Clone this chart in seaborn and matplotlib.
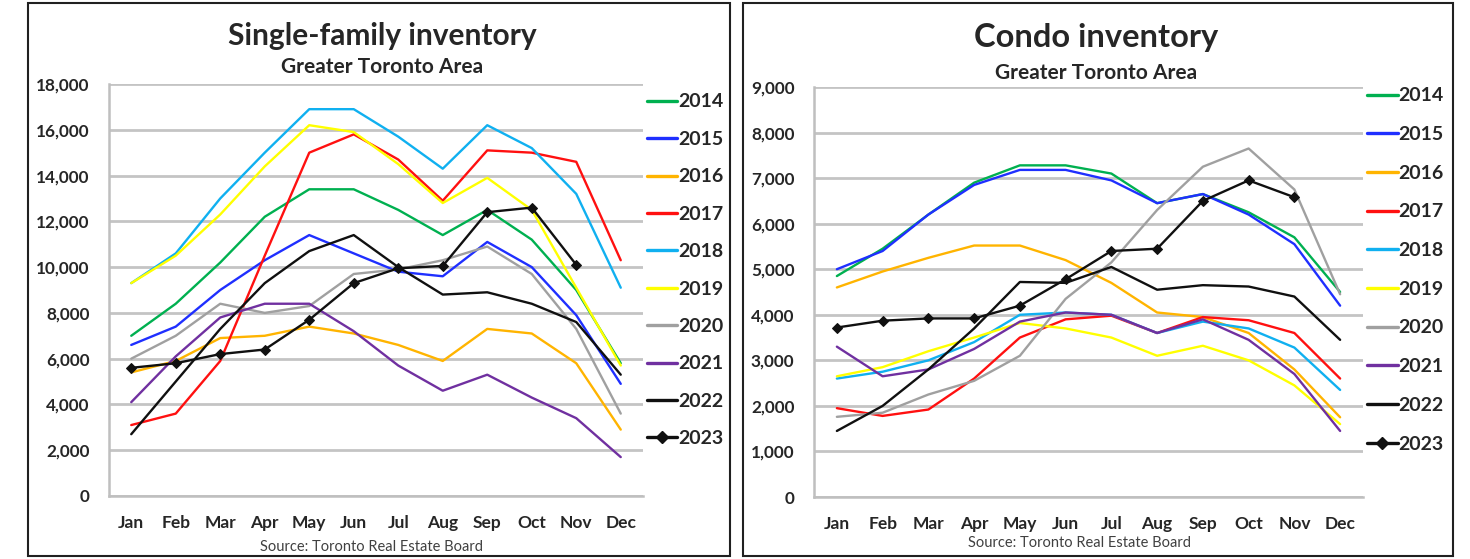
import numpy as np
import pandas as pd
import seaborn as sns
import matplotlib.pyplot as plt
from matplotlib.patches import Rectangle
from matplotlib.ticker import FuncFormatter
from matplotlib.lines import Line2D

sns.set_style('white')
plt.rcParams['font.family'] = ['Lato', 'DejaVu Sans']

months = ['Jan', 'Feb', 'Mar', 'Apr', 'May', 'Jun', 'Jul', 'Aug', 'Sep', 'Oct', 'Nov', 'Dec']
years = ['2014', '2015', '2016', '2017', '2018', '2019', '2020', '2021', '2022', '2023']
year_colors = ['#00b050', '#1f2fff', '#ffb400', '#ff1010', '#10b0f0',
               '#ffff00', '#a0a0a0', '#7030a0', '#101010', '#101010']

# single-family inventory, GTA
sf_2014 = [7000, 8400, 10200, 12200, 13400, 13400, 12500, 11400, 12500, 11200, 9000, 5800]
sf_2015 = [6600, 7400, 9000, 10300, 11400, 10600, 9800, 9600, 11100, 10000, 7900, 4900]
sf_2016 = [5400, 5900, 6900, 7000, 7400, 7100, 6600, 5900, 7300, 7100, 5800, 2900]
sf_2017 = [3100, 3600, 5900, 10500, 15000, 15800, 14700, 12900, 15100, 15000, 14600, 10300]
sf_2018 = [9300, 10600, 13000, 15000, 16900, 16900, 15700, 14300, 16200, 15200, 13200, 9100]
sf_2019 = [9300, 10500, 12300, 14400, 16200, 15900, 14500, 12800, 13900, 12500, 9100, 5700]
sf_2020 = [6000, 7000, 8400, 8000, 8300, 9700, 9900, 10300, 10900, 9700, 7300, 3600]
sf_2021 = [4100, 6100, 7800, 8400, 8400, 7200, 5700, 4600, 5300, 4300, 3400, 1700]
sf_2022 = [2700, 5000, 7300, 9300, 10700, 11400, 10000, 8800, 8900, 8400, 7600, 5300]
sf_2023 = [5600, 5800, 6200, 6400, 7700, 9300, 9950, 10050, 12400, 12600, 10100, np.nan]

# condo inventory, GTA
co_2014 = [4850, 5450, 6200, 6900, 7280, 7280, 7100, 6450, 6650, 6250, 5700, 4500]
co_2015 = [5000, 5400, 6200, 6850, 7180, 7180, 6950, 6450, 6650, 6200, 5550, 4200]
co_2016 = [4600, 4950, 5250, 5520, 5520, 5200, 4700, 4050, 3950, 3600, 2800, 1750]
co_2017 = [1950, 1780, 1920, 2600, 3500, 3900, 3980, 3600, 3950, 3880, 3600, 2600]
co_2018 = [2600, 2750, 3000, 3400, 4000, 4050, 4000, 3600, 3850, 3700, 3280, 2350]
co_2019 = [2650, 2850, 3200, 3500, 3820, 3700, 3500, 3100, 3320, 3000, 2450, 1600]
co_2020 = [1760, 1850, 2250, 2550, 3100, 4350, 5150, 6300, 7250, 7650, 6750, 4450]
co_2021 = [3300, 2650, 2800, 3250, 3850, 4050, 4000, 3600, 3900, 3450, 2700, 1450]
co_2022 = [1450, 2000, 2800, 3700, 4720, 4700, 5050, 4550, 4650, 4620, 4400, 3450]
co_2023 = [3720, 3870, 3920, 3920, 4200, 4780, 5400, 5450, 6500, 6950, 6580, np.nan]

sf_series = [sf_2014, sf_2015, sf_2016, sf_2017, sf_2018, sf_2019, sf_2020, sf_2021, sf_2022, sf_2023]
co_series = [co_2014, co_2015, co_2016, co_2017, co_2018, co_2019, co_2020, co_2021, co_2022, co_2023]


def long_df(series):
    rows = []
    for yr, vals in zip(years, series):
        for i, v in enumerate(vals):
            rows.append((yr, i, v))
    return pd.DataFrame(rows, columns=['year', 'month', 'value']).dropna()


def draw_panel(ax, df, ymax, title, title_size, title_x, title_y, sub_y, src_x, src_y,
               leg_y, leg_space):
    palette = dict(zip(years, year_colors))
    for yr in years:
        sub = df[df['year'] == yr]
        mk = 'D' if yr == '2023' else None
        sns.lineplot(data=sub, x='month', y='value', ax=ax, color=palette[yr], lw=1.7,
                     marker=mk, markersize=5.5, markeredgecolor='#101010', sort=False,
                     label=yr, legend=False)
    ax.set_xlim(-0.5, 11.5)
    ax.set_ylim(0, ymax)
    ax.set_yticks(np.linspace(0, ymax, 10))
    ax.yaxis.set_major_formatter(FuncFormatter(lambda v, p: f'{int(v):,}'))
    ax.set_xticks(range(12))
    ax.set_xticklabels(months)
    ax.set_xticks(np.arange(-0.5, 12, 1), minor=True)
    ax.tick_params(axis='x', which='major', length=0, pad=14, labelsize=12.5)
    ax.tick_params(axis='x', which='minor', length=6, color='#bfbfbf', width=1.5)
    ax.tick_params(axis='y', length=5, color='#bfbfbf', width=1.5, pad=9, labelsize=12.3)
    for lab in ax.get_xticklabels() + ax.get_yticklabels():
        lab.set_fontweight('bold')
    ax.yaxis.grid(True, color='#c4c4c4', lw=2)
    ax.set_axisbelow(True)
    for s in ['top', 'right']:
        ax.spines[s].set_visible(False)
    for s in ['left', 'bottom']:
        ax.spines[s].set_color('#bfbfbf')
        ax.spines[s].set_linewidth(1.8)
    ax.set_xlabel('')
    ax.set_ylabel('')

    handles = [Line2D([], [], color=c, lw=2.4, marker='D' if y == '2023' else None, markersize=6)
               for y, c in zip(years, year_colors)]
    ax.legend(handles, years, loc='upper left', bbox_to_anchor=(1.008, leg_y), frameon=False,
              borderpad=0, borderaxespad=0, handlelength=1.55, handletextpad=0.05,
              labelspacing=leg_space, prop={'weight': 'bold', 'size': 14})

    fig = ax.figure
    fig.text(title_x, title_y, title, ha='center', va='center', fontsize=title_size, fontweight='bold')
    fig.text(title_x, sub_y, 'Greater Toronto Area', ha='center', va='center', fontsize=15,
             fontweight='bold', color='#262626')
    fig.text(src_x, src_y, 'Source: Toronto Real Estate Board', ha='center', va='center',
             fontsize=10.5, color='#404040')


fig = plt.figure(figsize=(14.7, 5.59), dpi=100)

# panel frames
fig.patches.append(Rectangle((28 / 1470, 3 / 559), 702 / 1470, 553 / 559, transform=fig.transFigure,
                             fill=False, edgecolor='#202020', lw=1.5))
fig.patches.append(Rectangle((743 / 1470, 3 / 559), 710 / 1470, 553 / 559, transform=fig.transFigure,
                             fill=False, edgecolor='#202020', lw=1.5))

ax1 = fig.add_axes([109 / 1470, 1 - 496 / 559, 534 / 1470, 412 / 559])
ax2 = fig.add_axes([814 / 1470, 1 - 497 / 559, 549 / 1470, 410 / 559])

draw_panel(ax1, long_df(sf_series), 18000, 'Single-family inventory', 21.5,
           382 / 1470, 1 - 36 / 559, 1 - 67 / 559, 372 / 1470, 1 - 547 / 559, 0.977, 1.05)
draw_panel(ax2, long_df(co_series), 9000, 'Condo inventory', 23.5,
           1096 / 1470, 1 - 38 / 559, 1 - 73 / 559, 1079 / 1470, 1 - 543 / 559, 0.999, 1.115)

fig.savefig('out.png', dpi=100)
